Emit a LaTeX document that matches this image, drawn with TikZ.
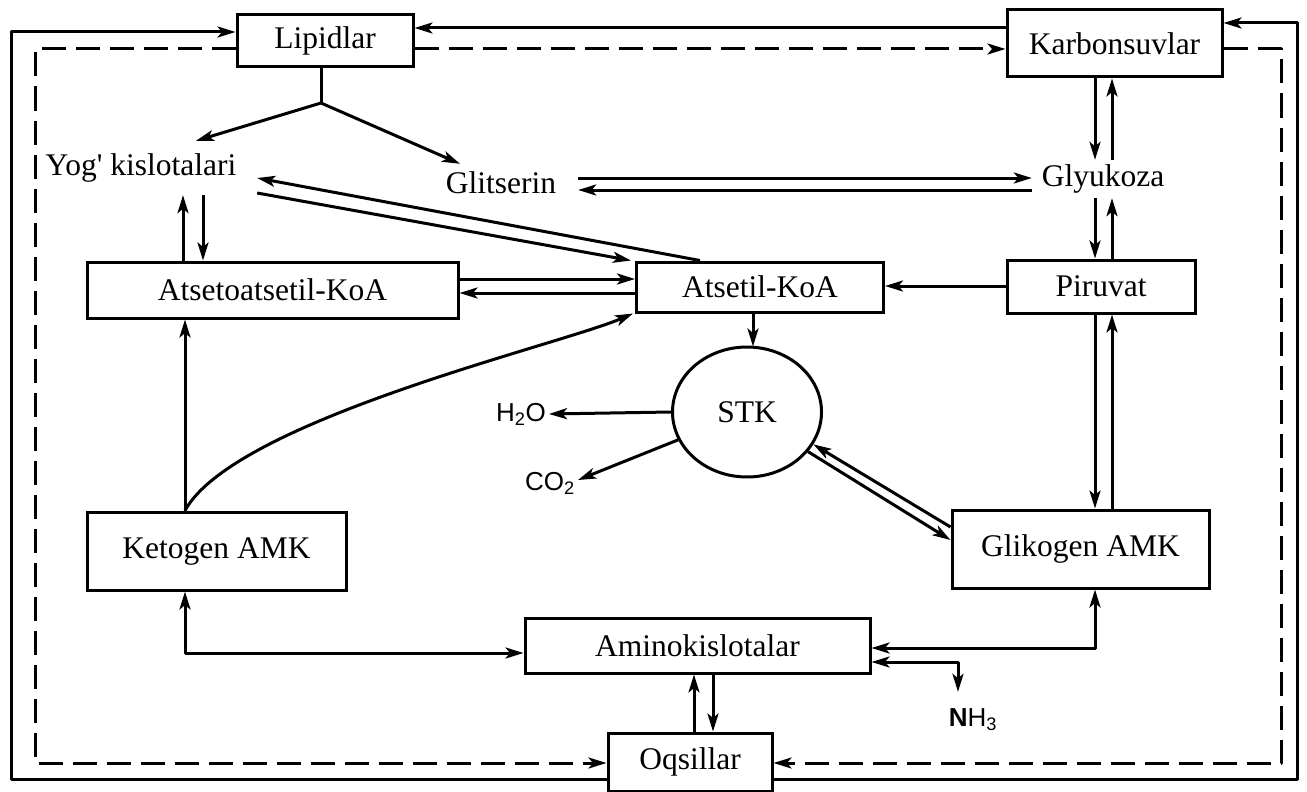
\documentclass[tikz,border=0pt]{standalone}
\usepackage{fontspec}
\setmainfont{Liberation Serif}
\newfontfamily\chemfont{Liberation Sans}
\usetikzlibrary{shapes.geometric,arrows.meta,calc}
\begin{document}
\begin{tikzpicture}[x=1pt,y=-1pt]
\tikzset{
 box/.style={draw, line width=3pt, inner sep=0pt, fill=white, font=\fontsize{31.5}{36}\selectfont},
 lbl/.style={inner sep=0pt, font=\fontsize{31.5}{36}\selectfont},
 chem/.style={inner sep=3pt, font=\chemfont\fontsize{26}{30}\selectfont},
 ln/.style={line width=3pt, line join=round},
 tip/.tip={Stealth[length=18pt,width=11pt,inset=4.5pt]},
 myarr/.style={ln, -tip},
 myboth/.style={ln, tip-tip},
 mydash/.style={ln, dash pattern=on 24pt off 10pt},
}
\fill[white] (0,0) rectangle (1307,792);
\useasboundingbox (0,0) rectangle (1307,792);

% helper rows / columns
\coordinate (cL1) at (11,0);   \coordinate (cL2) at (35,0);
\coordinate (cR1) at (1297,0); \coordinate (cR2) at (1281,0);
\coordinate (rTa) at (0,32);   \coordinate (rTb) at (0,28);  \coordinate (rTc) at (0,23);
\coordinate (rD) at (0,49);
\coordinate (rB1) at (0,779);  \coordinate (rB2) at (0,763);
\coordinate (cD) at (1095,0);  \coordinate (cU) at (1112,0);
\coordinate (cYu) at (183,0);  \coordinate (cYd) at (203,0);
\coordinate (cK) at (185,0);
\coordinate (cS) at (753,0);
\coordinate (cOu) at (694,0);  \coordinate (cOd) at (713,0);
\coordinate (cN) at (958,0);
\coordinate (rA1) at (0,279);  \coordinate (rA2) at (0,293);
\coordinate (rG1) at (0,178);  \coordinate (rG2) at (0,190);
\coordinate (rP) at (0,286);
\coordinate (rM1) at (0,648);  \coordinate (rM2) at (0,662);
\coordinate (rK) at (0,653);
\coordinate (br) at (321,103);

% nodes
\node[box, minimum width=176pt, minimum height=52pt] (lip) at (325,41) {Lipidlar};
\node[box, minimum width=215pt, minimum height=67pt] (karb) at (1114.5,43.5) {Karbonsuvlar};
\node[lbl, minimum width=232pt, minimum height=54pt] (yog) at (141,168) {Yog\textquotesingle{} kislotalari};
\node[lbl, minimum width=154pt, minimum height=38pt] (glit) at (501,183) {Glitserin};
\node[lbl, minimum width=142pt, minimum height=38pt] (glyu) at (1103,179) {Glyukoza};
\node[box, minimum width=371pt, minimum height=56pt] (aat) at (272.5,290) {Atsetoatsetil-KoA};
\node[box, minimum width=247pt, minimum height=50pt] (atk) at (760,287) {Atsetil-KoA};
\node[box, minimum width=188pt, minimum height=53pt] (pir) at (1101,286.5) {Piruvat};
\node[box, shape=ellipse, minimum width=149pt, minimum height=130pt] (stk) at (747,412) {STK};
\node[chem] (h2o) at (521,414) {H\textsubscript{2}O};
\node[chem] (co2) at (550,483) {CO\textsubscript{2}};
\node[box, minimum width=259pt, minimum height=78pt] (ket) at (216.5,551) {Ketogen AMK};
\node[box, minimum width=257pt, minimum height=78pt] (gli) at (1080.5,549) {Glikogen AMK};
\node[box, minimum width=345pt, minimum height=55pt] (ami) at (697.5,645.5) {Aminokislotalar};
\node[chem, inner sep=0pt, minimum height=56pt] (nh3) at (973,720) {\textbf{N}H\textsubscript{3}};
\node[box, minimum width=164pt, minimum height=58pt] (oqs) at (690,762) {Oqsillar};

% outer solid loop
\draw[myarr] (oqs.west |- rB1) -- (cL1 |- rB1) -- (cL1 |- rTa) -- (lip.west |- rTa);
\draw[myarr] (karb.west |- rTb) -- (lip.east |- rTb);
\draw[myarr] (oqs.east |- rB1) -- (cR1 |- rB1) -- (cR1 |- rTc) -- (karb.east |- rTc);

% outer dashed loop
\draw[mydash, -tip] (lip.west |- rD) -- (cL2 |- rD) -- (cL2 |- rB2) -- (oqs.west |- rB2);
\draw[mydash, -tip] (lip.east |- rD) -- (karb.west |- rD);
\draw[mydash, -tip] (karb.east |- rD) -- (cR2 |- rD) -- (cR2 |- rB2) -- (oqs.east |- rB2);

% lipids split
\draw[ln] (lip.south -| br) -- (br);
\draw[myarr] (br) -- ([xshift=55pt]yog.north);
\draw[myarr] (br) -- ([xshift=-41pt]glit.north);

% fatty acids <-> acetoacetyl-CoA
\draw[myarr] (aat.north -| cYu) -- (yog.south -| cYu);
\draw[myarr] (yog.south -| cYd) -- (aat.north -| cYd);

% fatty acids <-> acetyl-CoA
\draw[myarr] ([xshift=-60pt]atk.north) -- ([yshift=-10pt]yog.east);
\draw[myarr] ([yshift=-25pt]yog.east) -- ([xshift=-4pt]atk.north west);

% glycerol <-> glucose
\draw[myarr] (glit.east |- rG1) -- (glyu.west |- rG1);
\draw[myarr] (glyu.west |- rG2) -- (glit.east |- rG2);

% carbohydrates / glucose / pyruvate / glycogenic AA
\draw[myarr] (karb.south -| cD) -- (glyu.north -| cD);
\draw[myarr] (glyu.north -| cU) -- (karb.south -| cU);
\draw[myarr] (glyu.south -| cD) -- (pir.north -| cD);
\draw[myarr] (pir.north -| cU) -- (glyu.south -| cU);
\draw[myarr] (pir.south -| cD) -- (gli.north -| cD);
\draw[myarr] (gli.north -| cU) -- (pir.south -| cU);

% acetoacetyl-CoA <-> acetyl-CoA, pyruvate -> acetyl-CoA
\draw[myarr] (aat.east |- rA1) -- (atk.west |- rA1);
\draw[myarr] (atk.west |- rA2) -- (aat.east |- rA2);
\draw[myarr] (pir.west |- rP) -- (atk.east |- rP);

% acetyl-CoA -> STK and products
\draw[myarr] (atk.south -| cS) -- ([yshift=-1pt]stk.north -| cS);
\draw[myarr] (stk.west) -- (h2o.east);
\draw[myarr] (stk.202) -- ([yshift=3pt]co2.east);

% STK <-> glycogenic AA
\draw[myarr] ([yshift=22pt]gli.west) -- (stk.-26);
\draw[myarr] (stk.-33) -- ([yshift=9pt]gli.west);

% ketogenic AA
\draw[myarr] (ket.north -| cK) -- (aat.south -| cK);
\draw[myarr] (ket.north -| cK) .. controls (235,420) and (560,345) .. ([xshift=-2pt]atk.south west);

% amino acids
\draw[myboth] (ket.south -| cK) |- (ami.west |- rK);
\draw[myboth] (ami.east |- rM1) -| (gli.south -| cD);
\draw[myboth] (ami.east |- rM2) -| (nh3.north -| cN);
\draw[myarr] (oqs.north -| cOu) -- (ami.south -| cOu);
\draw[myarr] (ami.south -| cOd) -- (oqs.north -| cOd);
\end{tikzpicture}
\end{document}
